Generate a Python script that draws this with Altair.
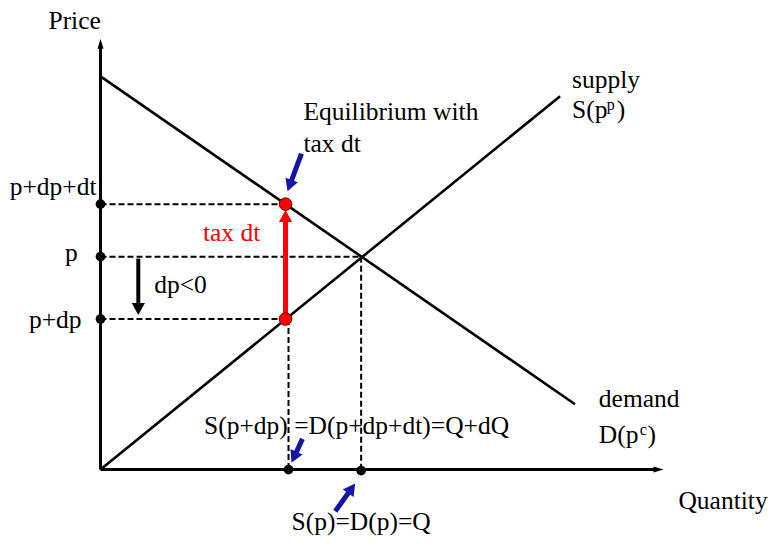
import math
import altair as alt
import pandas as pd

FONT = "Liberation Serif"
FS = 25.5
BLUE = "#1414a8"
RED = "#ff0000"

# ---- economics coordinates (origin where the two axes cross) ----
demand_q = [0, 477]
demand_p = [397, 66]
supply_q = [0, 462]
supply_p = [0, 377]
q_eq, p_eq = 263, 215            # equilibrium without tax
q_tax, p_cons, p_prod = 186, 268, 152   # equilibrium with tax dt
q_tax_axis, q_eq_axis = 189, 262
axis_len_q = 566
axis_len_p = 435

# arrows: (tail q, tail p, tip q, tip p)
blue_arrows = [(202, 319, 188, 281), (203, 31, 192, 7), (236, -42, 256, -14)]
red_arrow = [(q_tax, p_prod, q_tax, 262)]
dp_arrow = [(38, 213, 38, 156)]

# labels: text, q, p (baseline), size, colour
labels_left = [
    ("supply", 474, 385, FS, "black"),
    ("S(p", 474, 355, FS, "black"),
    ("p", 509, 363, 16, "black"),
    (")", 519, 355, FS, "black"),
    ("Equilibrium with", 204, 353, FS, "black"),
    ("tax dt", 204, 321, FS, "black"),
    ("tax dt", 103, 231, FS, RED),
    ("dp<0", 54, 178, FS, "black"),
    ("demand", 501, 63, FS, "black"),
    ("D(p", 501, 27, FS, "black"),
    ("c", 542, 35, 16, "black"),
    (")", 550, 27, FS, "black"),
    ("S(p+dp) =D(p+dp+dt)=Q+dQ", 104, 36, FS, "black"),
    ("Quantity", 581, -40, FS, "black"),
]
labels_right = [
    ("p+dp+dt", -4, 277, FS, "black"),
    ("p", -23, 211, FS, "black"),
    ("p+dp", -19, 143, FS, "black"),
]
labels_center = [
    ("Price", -26, 445, FS, "black"),
    ("S(p)=D(p)=Q", 262, -61, FS, "black"),
]

xs = alt.Scale(domain=[-93, 667])
ys = alt.Scale(domain=[-63, 465])
X = alt.X("q:Q", scale=xs, axis=None)
Y = alt.Y("p:Q", scale=ys, axis=None)


def seg_df(rows):
    return pd.DataFrame(rows, columns=["q", "p", "q2", "p2"])


def rules(rows, **kw):
    return alt.Chart(seg_df(rows)).mark_rule(**kw).encode(
        x=X, y=Y, x2="q2:Q", y2="p2:Q")


def arrow_parts(arrows, head_len):
    shafts, heads = [], []
    for tq, tp, hq, hp in arrows:
        dq, dp = hq - tq, hp - tp
        L = math.hypot(dq, dp)
        uq, up = dq / L, dp / L
        sq, sp = hq - uq * head_len * 0.6, hp - up * head_len * 0.6
        shafts.append((tq, tp, sq, sp))
        ang = math.degrees(math.atan2(dq, dp)) % 360
        heads.append({"q": hq, "p": hp, "angle": ang})
    return shafts, pd.DataFrame(heads)


def heads(df, size, color, shape):
    return alt.Chart(df).mark_point(
        shape=shape, filled=True, color=color, opacity=1, size=size,
        strokeWidth=0).encode(x=X, y=Y, angle=alt.Angle("angle:Q", scale=None))


HEAD_SHAPE = "M0,0L1.1,2L-1.1,2Z"
AXIS_HEAD = "M0,0L0.6,2L-0.6,2Z"

layers = []

# demand and supply
layers.append(rules([(demand_q[0], demand_p[0], demand_q[1], demand_p[1]),
                     (supply_q[0], supply_p[0], supply_q[1], supply_p[1])],
                    color="black", strokeWidth=2.6))

# axes
axes_shafts, axes_heads = arrow_parts(
    [(0, 0, 0, axis_len_p), (0, 0, axis_len_q, 0)], 10)
layers.append(rules(axes_shafts, color="black", strokeWidth=3))
layers.append(heads(axes_heads, 100, "black", AXIS_HEAD))

# dashed guides
layers.append(rules([(0, p_cons, q_tax, p_cons),
                     (0, p_eq, q_eq, p_eq),
                     (0, p_prod, q_tax, p_prod),
                     (q_tax_axis, p_prod, q_tax_axis, 0),
                     (q_eq_axis, p_eq, q_eq_axis, 0)],
                    color="black", strokeWidth=2, strokeDash=[6, 3]))

# black dots
dots = pd.DataFrame({"q": [0, 0, 0, q_tax_axis, q_eq_axis],
                     "p": [p_cons, p_eq, p_prod, 0, -1]})
layers.append(alt.Chart(dots).mark_circle(color="black", opacity=1, size=95)
              .encode(x=X, y=Y))

# red arrow (tax dt)
s, h = arrow_parts(red_arrow, 12)
layers.append(rules(s, color=RED, strokeWidth=5))
layers.append(heads(h, 144, RED, HEAD_SHAPE))

# black dp arrow
s, h = arrow_parts(dp_arrow, 12)
layers.append(rules(s, color="black", strokeWidth=4))
layers.append(heads(h, 144, "black", HEAD_SHAPE))

# blue pointer arrows
s, h = arrow_parts(blue_arrows, 12)
layers.append(rules(s, color=BLUE, strokeWidth=5))
layers.append(heads(h, 144, BLUE, HEAD_SHAPE))

# red dots
reds = pd.DataFrame({"q": [q_tax, q_tax], "p": [p_cons, p_prod]})
layers.append(alt.Chart(reds).mark_point(shape="circle", filled=True, fill=RED,
                                         stroke="#7a0000", strokeWidth=1,
                                         opacity=1, size=160)
              .encode(x=X, y=Y))


def text_layer(rows, align):
    df = pd.DataFrame(rows, columns=["text", "q", "p", "size", "color"])
    return alt.Chart(df).mark_text(font=FONT, align=align,
                                   baseline="alphabetic").encode(
        x=X, y=Y, text="text:N",
        size=alt.Size("size:Q", scale=None),
        color=alt.Color("color:N", scale=None))


layers.append(text_layer(labels_left, "left"))
layers.append(text_layer(labels_right, "right"))
layers.append(text_layer(labels_center, "center"))

chart = alt.layer(*layers).properties(
    width=760, height=528,
    autosize=alt.AutoSizeParams(type="fit", contains="padding"),
    padding=0, background="white",
).configure_view(stroke=None)

chart.save("out.html", embed_options={"renderer": "svg", "actions": False})
